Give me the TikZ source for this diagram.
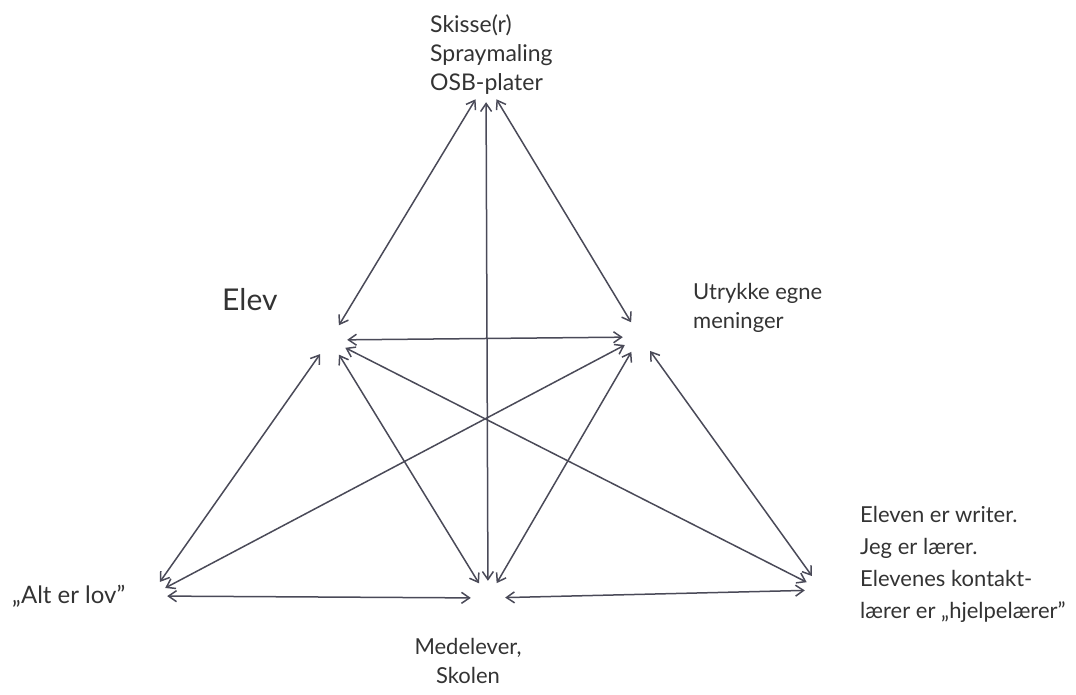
\documentclass[tikz,border=0pt]{standalone}
\usepackage{fontspec}
\setmainfont{Lato}
\usetikzlibrary{positioning,arrows.meta}
\definecolor{pencil}{HTML}{4A4A58}
\definecolor{ink}{HTML}{333333}

\begin{document}
\begin{tikzpicture}[x=1pt, y=-1pt,
  hub/.style={circle, minimum size=34pt, inner sep=0pt},
  lbl/.style={align=left, font=\fontsize{22}{29}\selectfont, text=ink, inner sep=0pt},
  arr/.style={{Straight Barb[length=8pt,width=11pt]}-{Straight Barb[length=8pt,width=11pt]},
              draw=pencil, line width=1.5pt}]
\useasboundingbox (0,0) rectangle (1076,695);
% meeting points of the arrows
\node[hub, minimum size=40pt] (top) at (486,82) {};
\node[hub] (elev) at (330,340) {};
\node[hub] (ytr) at (640,337) {};
\node[hub] (alt) at (150,596) {};
\node[hub] (med) at (488,598) {};
\node[hub] (rol) at (822,590) {};
% texts
\node[lbl, anchor=north west, font=\fontsize{23}{29}\selectfont] (tools) at (430,14) {Skisse(r)\\Spraymaling\\OSB-plater};
\node[lbl, anchor=base west, font=\fontsize{30}{30}\selectfont] (elevtxt) at (222,310) {Elev};
\node[lbl, anchor=north west] (ytrtxt) at (693,283) {Utrykke egne\\meninger};
\node[lbl, anchor=north west, font=\fontsize{22}{32}\selectfont] (roltxt) at (860,506) {Eleven er writer.\\Jeg er lærer.\\Elevenes kontakt-\\lærer er „hjelpelærer"};
\node[lbl, anchor=base west, font=\fontsize{24}{29}\selectfont] (alttxt) at (12,603) {„Alt er lov"};
\node[lbl, anchor=north, align=center] (medtxt) at (468,638) {Medelever,\\Skolen};
% arrows
\draw[arr] (top) -- (elev);
\draw[arr] (top) -- (med);
\draw[arr] (top) -- (ytr);
\draw[arr] (elev) -- (ytr);
\draw[arr] (elev) -- (alt);
\draw[arr] (elev) -- (med);
\draw[arr] (elev) -- (rol);
\draw[arr] (ytr) -- (alt);
\draw[arr] (ytr) -- (med);
\draw[arr] (ytr) -- (rol);
\draw[arr] (alt) -- (med);
\draw[arr] (med) -- (rol);
\end{tikzpicture}
\end{document}
